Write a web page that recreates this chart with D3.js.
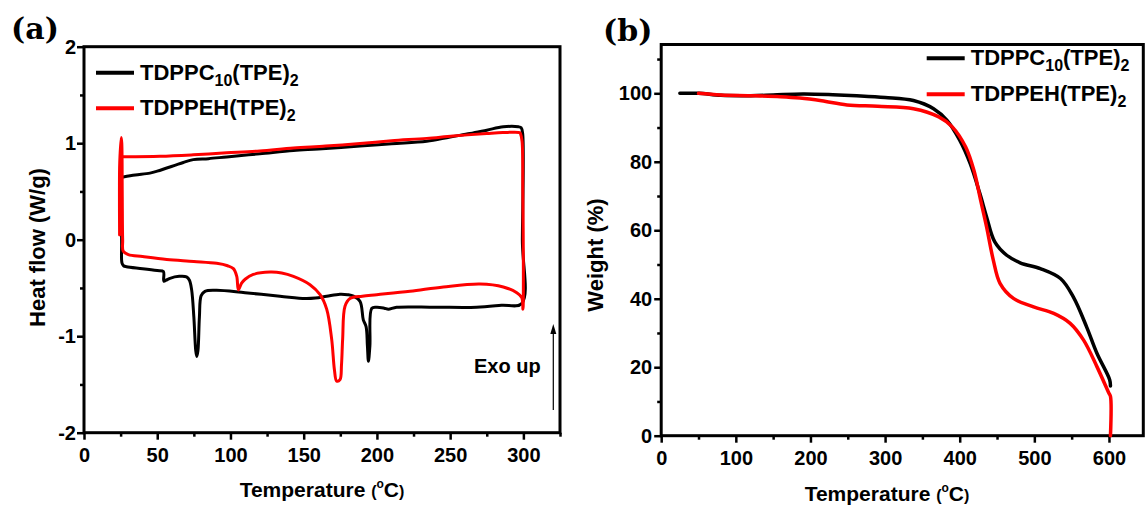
<!DOCTYPE html>
<html>
<head>
<meta charset="utf-8">
<script src="https://cdn.jsdelivr.net/npm/d3@7"></script>
<style>
  body { margin: 0; background: #fff; }
  svg text { font-family: "Liberation Sans", Arial, sans-serif; font-weight: bold; fill: #000; }
</style>
</head>
<body>
<svg id="chart" width="1145" height="508"></svg>
<script>
// ---- data ----
// DSC, [temperature °C, heat flow W/g]; one loop: heating (bottom) then cooling (top)
const dscC10 = [
  [26.8, 0.65], [25.6, 0.64], [25.6, 0.3], [25.7, -0.05], [25.9, -0.24], [27, -0.27], [29, -0.28],
  [40, -0.3], [50, -0.32], [54.2, -0.33], [54.5, -0.43], [56, -0.42], [58.7, -0.40], [65, -0.38],
  [70, -0.385], [72, -0.42], [73.5, -0.52], [75, -0.8], [76.3, -1.15], [77, -1.21], [77.8, -1.15],
  [78.8, -0.8], [80, -0.58], [82.6, -0.535], [90.6, -0.525], [110, -0.55], [133.8, -0.585],
  [151, -0.61], [158, -0.605], [165.7, -0.586], [174.8, -0.565], [180, -0.57], [184, -0.585],
  [188.5, -0.64], [190.7, -0.83], [192.6, -0.9], [193.5, -1.1], [194.2, -1.26], [195.2, -1.1],
  [196.5, -0.71], [199.9, -0.70], [205, -0.71], [207.8, -0.72], [213.5, -0.70], [240, -0.70],
  [268, -0.70], [285, -0.68], [298.9, -0.66], [299.3, 0], [299.5, 1.1], [298.5, 1.16],
  [296.6, 1.17], [286.3, 1.17], [275, 1.135], [263.6, 1.10], [250, 1.065], [234, 1.02],
  [210, 0.995], [188.5, 0.97], [160, 0.94], [143, 0.925], [120, 0.89], [97.4, 0.858], [85, 0.84],
  [74.6, 0.83], [67.8, 0.80], [62, 0.77], [56.5, 0.743], [50, 0.71], [45, 0.69], [35, 0.67], [26.8, 0.65]
]
const dscEH = [
  [24.3, 0.05], [24.2, 0.5], [24.4, 0.8], [25.4, 1.06], [25.8, 1.0], [26.1, 0.5], [26.4, 0.0],
  [26.8, -0.12], [30.3, -0.155], [40, -0.175], [56.5, -0.205], [75, -0.225], [90.6, -0.245],
  [98, -0.27], [102, -0.30], [104.3, -0.38], [105.4, -0.52], [107.6, -0.45], [110, -0.41],
  [115.6, -0.36], [127, -0.336], [135, -0.345], [143, -0.38], [154.3, -0.466], [161.2, -0.57],
  [165.7, -0.72], [169.1, -1.03], [171, -1.35], [172.5, -1.465], [174.8, -1.45], [175.8, -1.3],
  [176.6, -1.03], [178.2, -0.69], [181.6, -0.61], [190, -0.585], [199.9, -0.57], [222.6, -0.535],
  [245.4, -0.49], [270.4, -0.46], [286.3, -0.49], [295.5, -0.55], [298.9, -0.60], [299.7, -0.72],
  [300, -0.3], [299.6, 0.5], [299.1, 1.02], [298, 1.10], [297.5, 1.11], [286, 1.11], [275, 1.10],
  [252, 1.075], [234, 1.05], [210, 1.025], [188.5, 0.997], [165, 0.97], [143, 0.95], [120, 0.92],
  [97.4, 0.90], [74.6, 0.88], [51.9, 0.865], [26.8, 0.86], [26.2, 0.86]
]
// TGA, [temperature °C, weight %]
const tgaC10 = [
  [25, 100], [50, 100], [80, 99.4], [120, 99.3], [150, 99.5], [190, 99.8], [230, 99.6],
  [262, 99.3], [300, 98.8], [338, 97.9], [365, 95.5], [383, 92.1], [400, 86.3], [414, 79.5],
  [427, 70.7], [436, 63.9], [447, 56.6], [463, 52.7], [481, 50.5], [508, 48.8], [535, 45.9],
  [552, 40.6], [570, 31.8], [584, 24], [601, 16.3], [602, 14.5]
]
const tgaEH = [
  [50, 100], [80, 99.5], [119, 99.3], [160, 99.0], [186, 98.6], [215, 97.8], [249, 96.6],
  [290, 96.2], [338, 95.5], [372, 93.1], [390, 90.2], [408, 84.3], [419, 77.5], [428, 68.8],
  [436, 61], [445, 51.3], [454, 44.5], [472, 40.1], [499, 37.6], [526, 35.7], [548, 32.8],
  [566, 27.9], [584, 20.1], [600, 12.4], [602, 11.5], [602, 0]
]

const dscXTicks = [0, 50, 100, 150, 200, 250, 300]
const dscXMinor = [25, 75, 125, 175, 225, 275, 325]
const dscYTicks = [-2, -1, 0, 1, 2]
const dscYMinor = [-1.5, -0.5, 0.5, 1.5]
const tgaXTicks = [0, 100, 200, 300, 400, 500, 600]
const tgaXMinor = [50, 150, 250, 350, 450, 550]
const tgaYTicks = [0, 20, 40, 60, 80, 100]
const tgaYMinor = [10, 30, 50, 70, 90, 110]

const seriesNames = ['TDPPC', 'TDPPEH']
const colors = ['#000000', '#ff0000']

// ---- drawing ----
const svg = d3.select('#chart')
const plain = (d) => String(d)   // "-1", not "−1.0"

function drawPanel (cfg) {
  const x = cfg.x
  const y = cfg.y
  const g = svg.append('g')
  const bottom = y.range()[0]
  const left = x.range()[0]

  const styleAxis = (sel) => {
    sel.select('.domain').remove()
    sel.selectAll('line').attr('stroke', '#000').attr('stroke-width', 2.5)
    sel.selectAll('text')
      .attr('font-family', '"Liberation Sans", Arial, sans-serif')
      .attr('font-size', 20)
      .attr('font-weight', 'bold')
  }

  g.append('g').attr('transform', `translate(0,${bottom})`)
    .call(d3.axisBottom(x).tickValues(cfg.xMinor).tickSize(4).tickFormat(''))
    .call(styleAxis)
  g.append('g').attr('transform', `translate(0,${bottom})`)
    .call(d3.axisBottom(x).tickValues(cfg.xTicks).tickSize(7).tickPadding(8).tickFormat(plain))
    .call(styleAxis)
  g.append('g').attr('transform', `translate(${left},0)`)
    .call(d3.axisLeft(y).tickValues(cfg.yMinor).tickSize(4).tickFormat(''))
    .call(styleAxis)
  g.append('g').attr('transform', `translate(${left},0)`)
    .call(d3.axisLeft(y).tickValues(cfg.yTicks).tickSize(7).tickPadding(cfg.yPad).tickFormat(plain))
    .call(styleAxis)

  // frame
  g.append('rect')
    .attr('x', left)
    .attr('y', y.range()[1])
    .attr('width', x.range()[1] - left)
    .attr('height', bottom - y.range()[1])
    .attr('fill', 'none')
    .attr('stroke', '#000')
    .attr('stroke-width', 3)

  const line = d3.line()
    .x((d) => x(d[0]))
    .y((d) => y(d[1]))
    .curve(d3.curveCatmullRom.alpha(0.5))

  cfg.series.forEach((s, i) => {
    g.append('path')
      .datum(s)
      .attr('d', line)
      .attr('fill', 'none')
      .attr('stroke', colors[i])
      .attr('stroke-width', cfg.lineWidth)
      .attr('stroke-linejoin', 'round')
      .attr('stroke-linecap', 'round')
  })

  // legend
  cfg.legend.forEach((l, i) => {
    g.append('line')
      .attr('x1', l.x).attr('x2', l.x + 38)
      .attr('y1', l.y).attr('y2', l.y)
      .attr('stroke', colors[i])
      .attr('stroke-width', 4)
    const t = g.append('text')
      .attr('x', l.x + 44)
      .attr('y', l.y + 7)
      .attr('font-size', 22)
    if (i === 0) {
      t.append('tspan').text(seriesNames[0])
      t.append('tspan').attr('font-size', 16).attr('dy', 6).text('10')
      t.append('tspan').attr('dy', -6).text('(TPE)')
      t.append('tspan').attr('font-size', 16).attr('dy', 6).text('2')
    } else {
      t.append('tspan').text(seriesNames[1] + '(TPE)')
      t.append('tspan').attr('font-size', 16).attr('dy', 6).text('2')
    }
  })

  // axis titles
  const xt = g.append('text')
    .attr('x', cfg.xTitle[0]).attr('y', cfg.xTitle[1])
    .attr('text-anchor', 'middle')
    .attr('font-size', 21)
  xt.append('tspan').text('Temperature ')
  xt.append('tspan').attr('font-size', 16).text('(')
  xt.append('tspan').attr('font-size', 12).attr('dy', -9).text('o')
  xt.append('tspan').attr('dy', 9).text('C')
  xt.append('tspan').attr('font-size', 16).text(')')

  g.append('text')
    .attr('transform', `translate(${cfg.yTitle[0]},${cfg.yTitle[1]}) rotate(-90)`)
    .attr('text-anchor', 'middle')
    .attr('font-size', 22)
    .text(cfg.yLabel)

  g.append('text')
    .attr('x', cfg.tag[0]).attr('y', cfg.tag[1])
    .style('font-family', '"DejaVu Serif", serif')
    .attr('font-size', 30)
    .text(cfg.tagText)

  return g
}

const xa = d3.scaleLinear().domain([0, 325]).range([84, 560])
const ya = d3.scaleLinear().domain([-2, 2]).range([432.7, 46.7])
const ga = drawPanel({
  x: xa, y: ya,
  xTicks: dscXTicks, xMinor: dscXMinor, yTicks: dscYTicks, yMinor: dscYMinor, yPad: 1,
  series: [dscC10, dscEH], lineWidth: 3,
  legend: [{ x: 96, y: 72.7 }, { x: 96, y: 108.3 }],
  xTitle: [322, 497], yTitle: [45, 247.5], yLabel: 'Heat flow (W/g)',
  tag: [11, 39], tagText: '(a)'
})

// Exo up arrow
ga.append('text').attr('x', 474).attr('y', 373.3).attr('font-size', 20).text('Exo up')
ga.append('line')
  .attr('x1', 553.3).attr('x2', 553.3).attr('y1', 410).attr('y2', 332)
  .attr('stroke', '#000').attr('stroke-width', 1.2)
ga.append('path')
  .attr('d', 'M553.3,324 L550.3,334 L556.3,334 Z')
  .attr('fill', '#000')

const xb = d3.scaleLinear().domain([0, 646]).range([661.2, 1143.3])
const yb = d3.scaleLinear().domain([0, 114.25]).range([435.7, 44.5])
drawPanel({
  x: xb, y: yb,
  xTicks: tgaXTicks, xMinor: tgaXMinor, yTicks: tgaYTicks, yMinor: tgaYMinor, yPad: 2,
  series: [tgaC10, tgaEH], lineWidth: 3.5,
  legend: [{ x: 926.7, y: 58.3 }, { x: 926.7, y: 94.3 }],
  xTitle: [887, 501], yTitle: [603, 255], yLabel: 'Weight (%)',
  tag: [603, 41], tagText: '(b)'
})
</script>
</body>
</html>
